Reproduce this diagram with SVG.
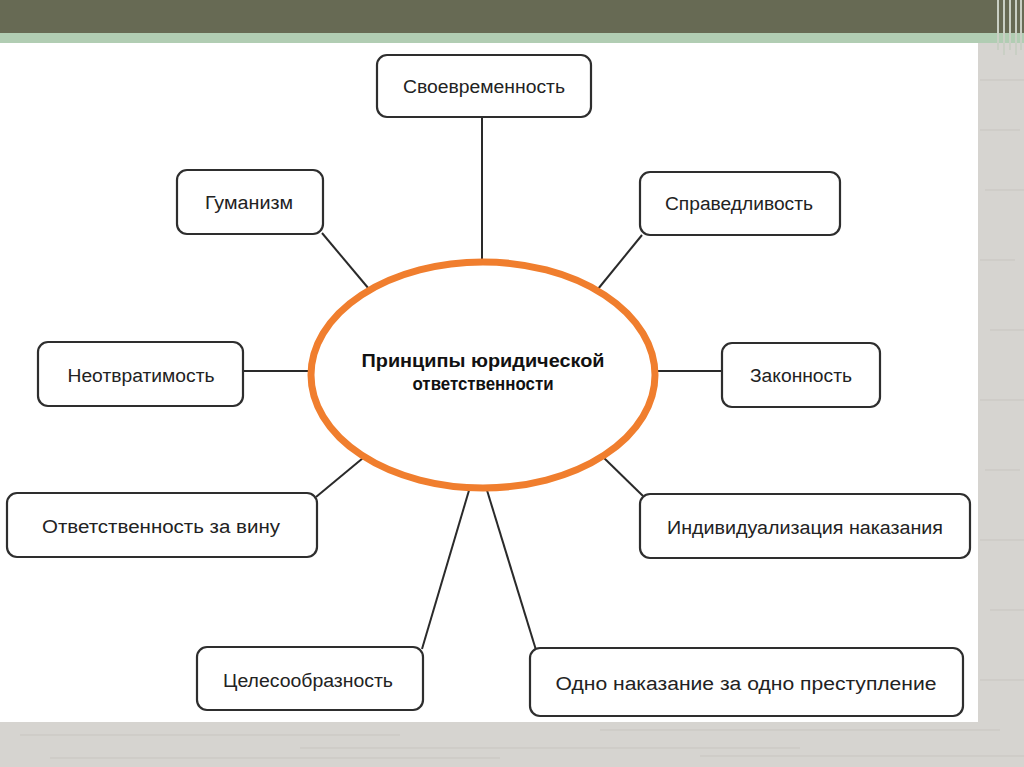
<svg xmlns="http://www.w3.org/2000/svg" width="1024" height="767" viewBox="0 0 1024 767">
<style>
.box{fill:#fff;stroke:#2e2e2e;stroke-width:2.2}
.lbl{font-family:"Liberation Sans",Arial,sans-serif;font-size:18px;fill:#222;text-anchor:middle}
.ctr{font-family:"Liberation Sans",Arial,sans-serif;font-size:18px;font-weight:bold;fill:#111;text-anchor:middle}
.con{stroke:#2a2a2a;stroke-width:2;fill:none}
.grain{stroke:#c8c5c0;stroke-width:1}
</style>
<rect x="0" y="0" width="1024" height="767" fill="#d6d4d0"/>
<g class="grain">
<line x1="980" y1="80" x2="1024" y2="80"/><line x1="980" y1="130" x2="1020" y2="130"/><line x1="985" y1="190" x2="1024" y2="190"/>
<line x1="980" y1="260" x2="1015" y2="260"/><line x1="990" y1="330" x2="1024" y2="330"/><line x1="980" y1="400" x2="1024" y2="400"/>
<line x1="985" y1="470" x2="1020" y2="470"/><line x1="980" y1="540" x2="1024" y2="540"/><line x1="990" y1="610" x2="1024" y2="610"/>
<line x1="980" y1="680" x2="1024" y2="680"/>
<line x1="20" y1="735" x2="400" y2="735"/><line x1="300" y1="748" x2="800" y2="748"/><line x1="600" y1="730" x2="1000" y2="730"/>
<line x1="50" y1="758" x2="500" y2="758"/><line x1="700" y1="756" x2="1024" y2="756"/>
</g>
<rect x="0" y="0" width="1024" height="33" fill="#676a54"/>
<rect x="0" y="33" width="1024" height="10" fill="#b1cdb3"/>
<g stroke="#c9cfc4" stroke-width="2">
<line x1="998" y1="0" x2="998" y2="50"/><line x1="1004" y1="0" x2="1004" y2="55"/><line x1="1010" y1="0" x2="1010" y2="50"/><line x1="1016" y1="0" x2="1016" y2="55"/><line x1="1021" y1="0" x2="1021" y2="50"/>
</g>
<rect x="0" y="43" width="978" height="679" fill="#fff"/>

<g id="connectors">
<line class="con" x1="482" y1="117" x2="482" y2="262"/>
<line class="con" x1="322" y1="233" x2="369" y2="289"/>
<line class="con" x1="642" y1="235" x2="598" y2="289"/>
<line class="con" x1="243" y1="371" x2="312" y2="371"/>
<line class="con" x1="655" y1="371" x2="722" y2="371"/>
<line class="con" x1="316" y1="497" x2="363" y2="458"/>
<line class="con" x1="603" y1="457" x2="643" y2="496"/>
<line class="con" x1="470" y1="487" x2="422" y2="649"/>
<line class="con" x1="486" y1="487" x2="536" y2="650"/>
</g>

<g id="center">
<ellipse cx="483" cy="375" rx="172" ry="113" fill="#fff" stroke="#f07e2e" stroke-width="7"/>
<text class="ctr" x="483" y="367" textLength="243" lengthAdjust="spacingAndGlyphs">Принципы  юридической</text>
<text class="ctr" x="483" y="390" textLength="141" lengthAdjust="spacingAndGlyphs">ответственности</text>
</g>

<g id="n-svoevremennost">
<rect class="box" x="377" y="55" width="214" height="62" rx="10"/>
<text class="lbl" x="484" y="93" textLength="162" lengthAdjust="spacingAndGlyphs">Своевременность</text>
</g>
<g id="n-gumanizm">
<rect class="box" x="177" y="170" width="146" height="64" rx="10"/>
<text class="lbl" x="249" y="209" textLength="88" lengthAdjust="spacingAndGlyphs">Гуманизм</text>
</g>
<g id="n-spravedlivost">
<rect class="box" x="640" y="172" width="200" height="63" rx="10"/>
<text class="lbl" x="739" y="210" textLength="148" lengthAdjust="spacingAndGlyphs">Справедливость</text>
</g>
<g id="n-neotvratimost">
<rect class="box" x="38" y="342" width="205" height="64" rx="10"/>
<text class="lbl" x="141" y="382" textLength="147" lengthAdjust="spacingAndGlyphs">Неотвратимость</text>
</g>
<g id="n-zakonnost">
<rect class="box" x="722" y="343" width="158" height="64" rx="10"/>
<text class="lbl" x="801" y="382" textLength="102" lengthAdjust="spacingAndGlyphs">Законность</text>
</g>
<g id="n-otvetstvennost">
<rect class="box" x="7" y="493" width="310" height="64" rx="10"/>
<text class="lbl" x="161" y="533" textLength="238" lengthAdjust="spacingAndGlyphs">Ответственность  за  вину</text>
</g>
<g id="n-individualizaciya">
<rect class="box" x="640" y="494" width="330" height="64" rx="10"/>
<text class="lbl" x="805" y="534" textLength="276" lengthAdjust="spacingAndGlyphs">Индивидуализация  наказания</text>
</g>
<g id="n-celesoobraznost">
<rect class="box" x="197" y="647" width="226" height="63" rx="10"/>
<text class="lbl" x="308" y="687" textLength="170" lengthAdjust="spacingAndGlyphs">Целесообразность</text>
</g>
<g id="n-odno-nakazanie">
<rect class="box" x="530" y="648" width="433" height="68" rx="10"/>
<text class="lbl" x="746" y="690" textLength="381" lengthAdjust="spacingAndGlyphs">Одно  наказание  за  одно  преступление</text>
</g>
</svg>
